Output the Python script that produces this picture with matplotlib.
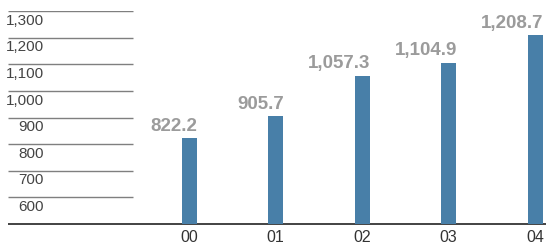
import matplotlib.pyplot as plt

years = ["00", "01", "02", "03", "04"]
values = [822.2, 905.7, 1057.3, 1104.9, 1208.7]
value_labels = ["822.2", "905.7", "1,057.3", "1,104.9", "1,208.7"]
y_ticks = [600, 700, 800, 900, 1000, 1100, 1200, 1300]
y_tick_labels = ["600", "700", "800", "900", "1,000", "1,100", "1,200", "1,300"]

plt.rcParams["font.family"] = ["Liberation Sans", "DejaVu Sans"]

W, H = 546, 248
fig = plt.figure(figsize=(W / 100, H / 100), dpi=100)
# axes bottom at pixel row 224 (value 500), top at row 11 (value 1300)
ax = fig.add_axes([0, 24 / H, 1, 213 / H])
ax.set_ylim(500, 1300)
step = 86.5
x0 = 189
ax.set_xlim(-x0 / step, (W - x0) / step)
ax.axis("off")

def px(p):
    return (p - x0) / step

bar_w = 15 / step
xs = list(range(len(years)))
ax.bar(xs, values, width=bar_w, color="#487fa8", zorder=3)

for x, v, lab in zip(xs, values, value_labels):
    ax.text(x + bar_w / 2 + 0.01, v + 13, lab, ha="right", va="bottom",
            fontsize=13.5, fontweight="bold", color="#9b9b9b", clip_on=False)
    ax.text(x, 500 - 50, years[x], ha="center", va="center",
            fontsize=11.5, color="#333333", clip_on=False)

ax.hlines(y_ticks, px(8), px(133), color="#7f7f7f", lw=1.0)
for t, lab in zip(y_ticks, y_tick_labels):
    ax.text(px(44), t - 10, lab, ha="right", va="top",
            fontsize=11, color="#444444")

ax.hlines(500, px(8), px(W), color="#222222", lw=1.2, clip_on=False)

fig.savefig("out.png", dpi=100)
